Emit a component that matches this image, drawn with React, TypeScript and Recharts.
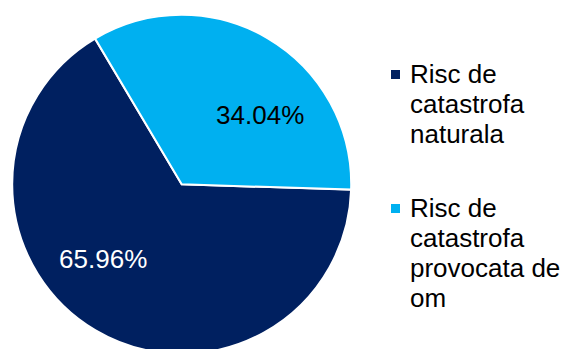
import React from 'react';
import { PieChart, Pie, Cell, Legend } from 'recharts';

const CATEGORIES = ['Risc de catastrofa naturala', 'Risc de catastrofa provocata de om'];
const VALUES = [65.96, 34.04];
const COLORS = ['#002060', '#00B0F0'];
const LABEL_COLORS = ['#FFFFFF', '#000000'];

const data = CATEGORIES.map((name, i) => ({ name, value: VALUES[i] }));

const FONT = '"Liberation Sans", Arial, sans-serif';
const RAD = Math.PI / 180;

const renderLabel = (props: any) => {
  const { cx, cy, midAngle, outerRadius, index, value } = props;
  // Excel "best fit" nudges the labels a bit clockwise of the slice middle
  const angle = (midAngle - 16.8) * RAD;
  const r = outerRadius * 0.63;
  const x = cx + r * Math.cos(angle);
  const y = cy - r * Math.sin(angle) + 2.7;
  return (
    <text
      x={x}
      y={y}
      fill={LABEL_COLORS[index]}
      textAnchor="middle"
      dominantBaseline="central"
      fontFamily={FONT}
      fontSize={26}
    >
      {value.toFixed(2)}%
    </text>
  );
};

const renderLegend = () => (
  <div style={{ fontFamily: FONT, fontSize: 26, lineHeight: '30px', color: '#000' }}>
    {data.map((d, i) => (
      <div key={d.name} style={{ position: 'relative', paddingLeft: 19, marginBottom: 44 }}>
        <span
          style={{
            position: 'absolute',
            left: 0,
            top: 10.5,
            width: 9,
            height: 9,
            background: COLORS[i],
          }}
        />
        {d.name}
      </div>
    ))}
  </div>
);

export default function App() {
  return (
    <div style={{ position: 'absolute', left: 0, top: 0, width: 565, height: 349, background: '#fff' }}>
      <PieChart width={565} height={349} margin={{ top: 0, right: 0, bottom: 0, left: 0 }}>
        <Pie
          data={data}
          dataKey="value"
          nameKey="name"
          cx={181.7}
          cy={184.3}
          outerRadius={169.5}
          startAngle={-1.8}
          endAngle={-361.8}
          stroke="#FFFFFF"
          strokeWidth={2}
          label={renderLabel}
          labelLine={false}
          isAnimationActive={false}
        >
          {data.map((d, i) => (
            <Cell key={d.name} fill={COLORS[i]} />
          ))}
        </Pie>
        <Legend
          content={renderLegend}
          wrapperStyle={{ position: 'absolute', left: 391, top: 59, width: 174, bottom: 'auto', right: 'auto' }}
        />
      </PieChart>
    </div>
  );
}
